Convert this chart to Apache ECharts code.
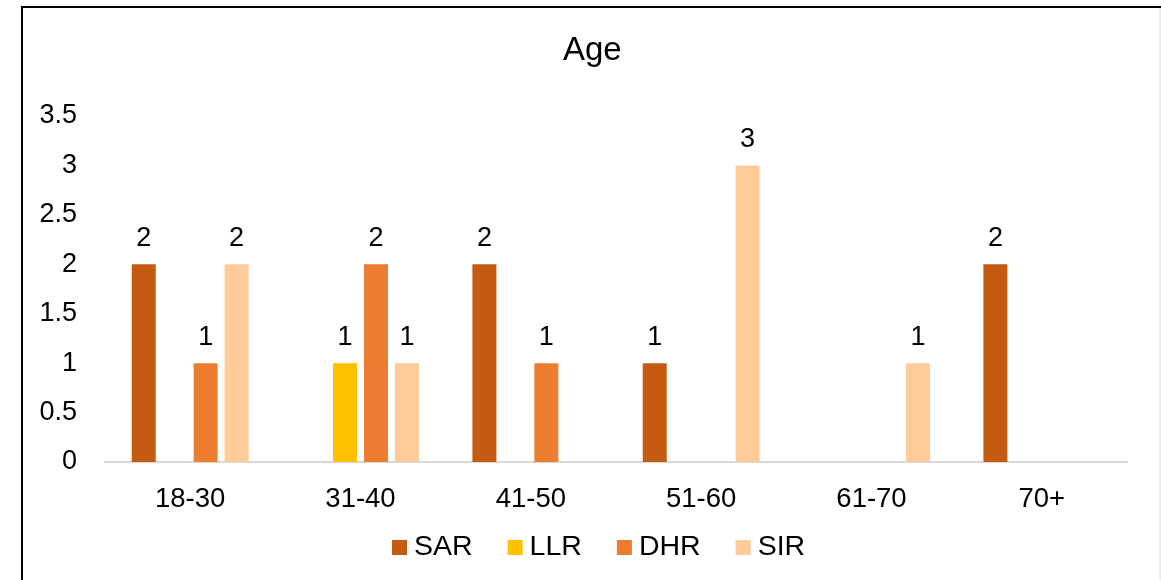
<!DOCTYPE html>
<html>
<head>
<meta charset="utf-8">
<script src="https://cdn.jsdelivr.net/npm/echarts@6/dist/echarts.min.js"></script>
<style>html,body{margin:0;padding:0;background:#fff}#c{width:1161px;height:580px}</style>
</head>
<body>
<div id="c"></div>
<script>
const categories = ['18-30', '31-40', '41-50', '51-60', '61-70', '70+'];
const seriesNames = ['SAR', 'LLR', 'DHR', 'SIR'];
const SAR = [2, null, 2, 1, null, 2];
const LLR = [null, 1, null, null, null, null];
const DHR = [1, 2, 1, null, null, null];
const SIR = [2, 1, null, 3, 1, null];
const colors = ['#C55A11', '#FFC000', '#ED7D31', '#FFCC99'];
const yTicks = [0, 0.5, 1, 1.5, 2, 2.5, 3, 3.5];

const values = [SAR, LLR, DHR, SIR];
const font = 'Liberation Sans, Arial, sans-serif';
const chart = echarts.init(document.getElementById('c'));
chart.setOption({
  animation: false,
  backgroundColor: '#fff',
  color: colors,
  title: {
    text: 'Age', left: 563, top: 34, itemGap: 0, padding: 0,
    textStyle: { fontFamily: font, fontSize: 33, fontWeight: 'normal', color: '#000' }
  },
  legend: {
    top: 533, left: 392, itemWidth: 15, itemHeight: 15, itemGap: 35,
    icon: 'rect', padding: 0,
    textStyle: { fontFamily: font, fontSize: 28.5, color: '#000', padding: [0, 0, 0, 2] },
    data: seriesNames
  },
  grid: { left: 105, right: 34, top: 116, bottom: 118 },
  xAxis: {
    type: 'category', data: categories,
    axisLine: { lineStyle: { color: '#D9D9D9', width: 2 } },
    axisTick: { show: false },
    axisLabel: { fontFamily: font, fontSize: 27.5, color: '#000', margin: 23 }
  },
  yAxis: {
    type: 'value', min: yTicks[0], max: yTicks[yTicks.length - 1], interval: 0.5,
    splitLine: { show: false },
    axisLine: { show: false }, axisTick: { show: false },
    axisLabel: { fontFamily: font, fontSize: 27, color: '#000', margin: 28 }
  },
  series: seriesNames.map((n, i) => ({
    name: n, type: 'bar', data: values[i],
    barWidth: 24, barGap: '29%',
    label: { show: true, position: 'top', distance: 12, fontFamily: font, fontSize: 27, color: '#000' }
  })),
  graphic: [
    { type: 'line', shape: { x1: 22, y1: 7, x2: 22, y2: 580 }, style: { stroke: '#000', lineWidth: 2 } },
    { type: 'line', shape: { x1: 21, y1: 7, x2: 1161, y2: 7 }, style: { stroke: '#000', lineWidth: 2 } },
    { type: 'line', shape: { x1: 1160, y1: 8, x2: 1160, y2: 580 }, style: { stroke: '#D9D9D9', lineWidth: 1 } }
  ]
});
</script>
</body>
</html>
